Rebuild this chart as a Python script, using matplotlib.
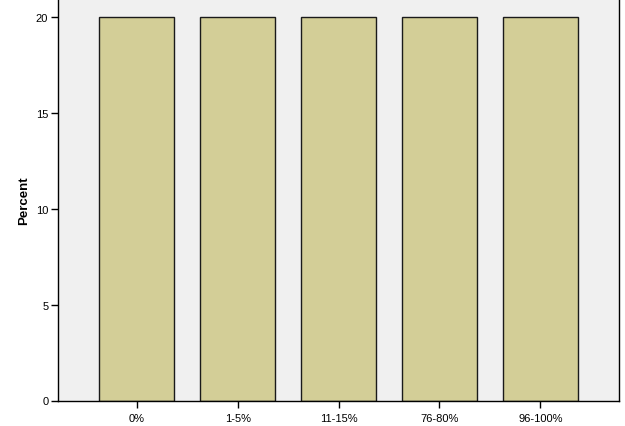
import matplotlib
matplotlib.use("Agg")
import matplotlib.pyplot as plt

categories = ["0%", "1-5%", "11-15%", "76-80%", "96-100%"]
percent = [20, 20, 20, 20, 20]
yticks = [0, 5, 10, 15, 20]

plt.rcParams['font.family'] = ['Liberation Sans', 'DejaVu Sans']

fig = plt.figure(figsize=(6.25, 4.27), dpi=100)
ax = fig.add_axes([58/625, 25.5/427, 561/625, 401.5/427])
ax.set_facecolor('#F0F0F0')
x = list(range(len(categories)))
ax.bar(x, percent, width=0.745, color='#D3CE97', edgecolor='#1a1a1a', linewidth=1.0, zorder=2)
ax.set_xlim(-0.78, 4.78)
ax.set_ylim(0, 20.95)
ax.set_xticks(x)
ax.set_xticklabels(categories, fontsize=8)
ax.set_yticks(yticks)
ax.set_yticklabels([str(v) for v in yticks], fontsize=8)
ax.tick_params(direction='out', length=5, width=1, colors='black', pad=2)
ax.spines['top'].set_visible(False)
for s in ['left', 'bottom', 'right']:
    ax.spines[s].set_color('black')
    ax.spines[s].set_linewidth(1)
ax.tick_params(axis='x', pad=4)
ax.set_ylabel('Percent', fontsize=9.5, fontweight='bold', labelpad=4)
fig.savefig('out.png', dpi=100)
